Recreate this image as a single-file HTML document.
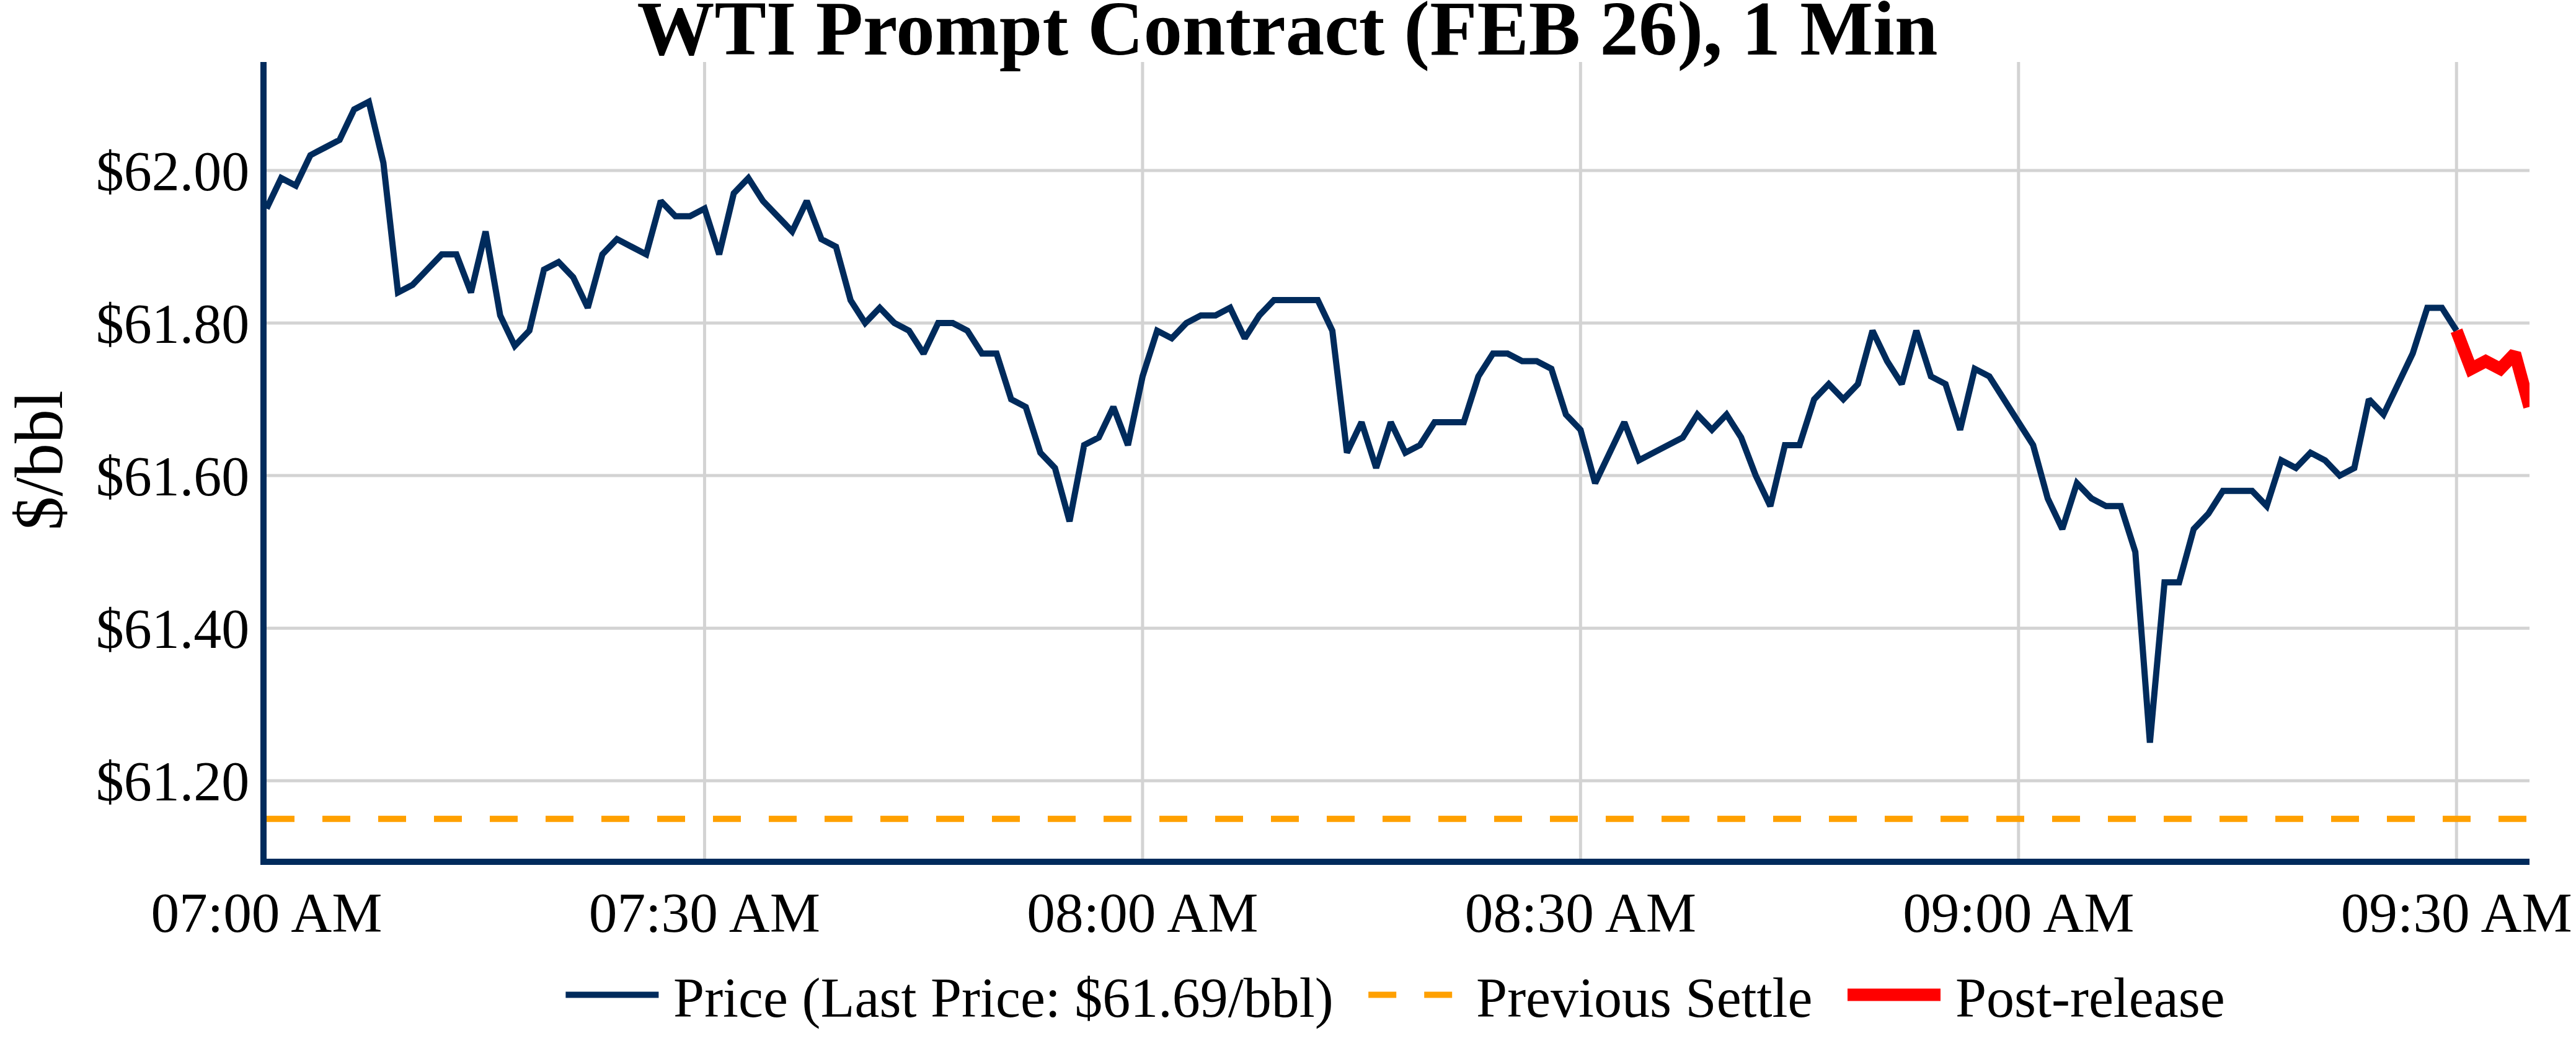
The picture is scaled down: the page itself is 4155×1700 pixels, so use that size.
<!DOCTYPE html>
<html><head><meta charset="utf-8"><title>WTI Prompt Contract</title>
<style>html,body{margin:0;padding:0;background:#fff;width:4155px;height:1700px;overflow:hidden}</style>
</head><body>
<svg width="4155" height="1700" viewBox="0 0 4155 1700" style="display:block"><rect x="0" y="0" width="4155" height="1700" fill="#ffffff"/><defs><clipPath id="pc"><rect x="430" y="100" width="3650" height="1285"/></clipPath></defs><g stroke="#d3d3d3" stroke-width="5" fill="none"><line x1="1136.45" y1="100" x2="1136.45" y2="1385" /><line x1="1842.90" y1="100" x2="1842.90" y2="1385" /><line x1="2549.35" y1="100" x2="2549.35" y2="1385" /><line x1="3255.81" y1="100" x2="3255.81" y2="1385" /><line x1="3962.26" y1="100" x2="3962.26" y2="1385" /><line x1="430" y1="274.90" x2="4080" y2="274.90" /><line x1="430" y1="521.00" x2="4080" y2="521.00" /><line x1="430" y1="767.10" x2="4080" y2="767.10" /><line x1="430" y1="1013.20" x2="4080" y2="1013.20" /><line x1="430" y1="1259.30" x2="4080" y2="1259.30" /></g><g clip-path="url(#pc)"><line x1="430" y1="1320.83" x2="4080" y2="1320.83" stroke="#ffa000" stroke-width="10" stroke-dasharray="45,45"/><path d="M430.00,336.42 L453.55,287.20 L477.10,299.51 L500.65,250.29 L524.19,237.98 L547.74,225.68 L571.29,176.46 L594.84,164.15 L618.39,262.60 L641.94,471.78 L665.48,459.47 L689.03,434.87 L712.58,410.25 L736.13,410.25 L759.68,471.78 L783.23,373.34 L806.77,508.69 L830.32,557.91 L853.87,533.31 L877.42,434.87 L900.97,422.56 L924.52,447.17 L948.06,496.39 L971.61,410.25 L995.16,385.65 L1018.71,397.95 L1042.26,410.25 L1065.81,324.12 L1089.35,348.73 L1112.90,348.73 L1136.45,336.42 L1160.00,410.25 L1183.55,311.82 L1207.10,287.20 L1230.65,324.12 L1254.19,348.73 L1277.74,373.34 L1301.29,324.12 L1324.84,385.65 L1348.39,397.95 L1371.94,484.09 L1395.48,521.00 L1419.03,496.39 L1442.58,521.00 L1466.13,533.31 L1489.68,570.22 L1513.23,521.00 L1536.77,521.00 L1560.32,533.31 L1583.87,570.22 L1607.42,570.22 L1630.97,644.05 L1654.52,656.36 L1678.06,730.18 L1701.61,754.80 L1725.16,840.93 L1748.71,717.88 L1772.26,705.58 L1795.81,656.36 L1819.35,717.88 L1842.90,607.14 L1866.45,533.31 L1890.00,545.61 L1913.55,521.00 L1937.10,508.69 L1960.65,508.69 L1984.19,496.39 L2007.74,545.61 L2031.29,508.69 L2054.84,484.09 L2078.39,484.09 L2101.94,484.09 L2125.48,484.09 L2149.03,533.31 L2172.58,730.18 L2196.13,680.96 L2219.68,754.80 L2243.23,680.96 L2266.77,730.18 L2290.32,717.88 L2313.87,680.96 L2337.42,680.96 L2360.97,680.96 L2384.52,607.14 L2408.06,570.22 L2431.61,570.22 L2455.16,582.52 L2478.71,582.52 L2502.26,594.83 L2525.81,668.66 L2549.35,693.27 L2572.90,779.40 L2596.45,730.18 L2620.00,680.96 L2643.55,742.49 L2667.10,730.18 L2690.65,717.88 L2714.19,705.58 L2737.74,668.66 L2761.29,693.27 L2784.84,668.66 L2808.39,705.58 L2831.94,767.10 L2855.48,816.32 L2879.03,717.88 L2902.58,717.88 L2926.13,644.05 L2949.68,619.44 L2973.23,644.05 L2996.77,619.44 L3020.32,533.31 L3043.87,582.52 L3067.42,619.44 L3090.97,533.31 L3114.52,607.14 L3138.06,619.44 L3161.61,693.27 L3185.16,594.83 L3208.71,607.14 L3232.26,644.05 L3255.81,680.96 L3279.35,717.88 L3302.90,804.01 L3326.45,853.23 L3350.00,779.40 L3373.55,804.01 L3397.10,816.32 L3420.65,816.32 L3444.19,890.15 L3467.74,1197.78 L3491.29,939.37 L3514.84,939.37 L3538.39,853.23 L3561.94,828.63 L3585.48,791.71 L3609.03,791.71 L3632.58,791.71 L3656.13,816.32 L3679.68,742.49 L3703.23,754.80 L3726.77,730.18 L3750.32,742.49 L3773.87,767.10 L3797.42,754.80 L3820.97,644.05 L3844.52,668.66 L3868.06,619.44 L3891.61,570.22 L3915.16,496.39 L3938.71,496.39 L3962.26,533.31" fill="none" stroke="#002b5c" stroke-width="10" stroke-linejoin="miter" stroke-miterlimit="2"/><path d="M3962.26,533.31 L3985.81,594.83 L4009.35,582.52 L4032.90,594.83 L4056.45,570.22 L4080.00,656.36" fill="none" stroke="#ff0000" stroke-width="20" stroke-linejoin="miter" stroke-miterlimit="2"/></g><line x1="425" y1="100" x2="425" y2="1395" stroke="#002b5c" stroke-width="10"/><line x1="420" y1="1390" x2="4080" y2="1390" stroke="#002b5c" stroke-width="10"/><g font-family='"Liberation Serif", serif' fill="#000"><text x="2076.5" y="88" font-size="125" font-weight="bold" text-anchor="middle">WTI Prompt Contract (FEB 26), 1 Min</text><text x="402.3" y="306.90" font-size="90" text-anchor="end">$62.00</text><text x="402.3" y="553.00" font-size="90" text-anchor="end">$61.80</text><text x="402.3" y="799.10" font-size="90" text-anchor="end">$61.60</text><text x="402.3" y="1045.20" font-size="90" text-anchor="end">$61.40</text><text x="402.3" y="1291.30" font-size="90" text-anchor="end">$61.20</text><text x="430.00" y="1502.8" font-size="91.4" text-anchor="middle">07:00 AM</text><text x="1136.45" y="1502.8" font-size="91.4" text-anchor="middle">07:30 AM</text><text x="1842.90" y="1502.8" font-size="91.4" text-anchor="middle">08:00 AM</text><text x="2549.35" y="1502.8" font-size="91.4" text-anchor="middle">08:30 AM</text><text x="3255.81" y="1502.8" font-size="91.4" text-anchor="middle">09:00 AM</text><text x="3962.26" y="1502.8" font-size="91.4" text-anchor="middle">09:30 AM</text><text transform="translate(100,742.5) rotate(-90)" x="0" y="0" font-size="110" text-anchor="middle">$/bbl</text></g><line x1="912.4" y1="1604.5" x2="1062.4" y2="1604.5" stroke="#002b5c" stroke-width="10"/><line x1="2207.2" y1="1604.5" x2="2357.2" y2="1604.5" stroke="#ffa000" stroke-width="10" stroke-dasharray="45,45"/><line x1="2980" y1="1604.5" x2="3130" y2="1604.5" stroke="#ff0000" stroke-width="20"/><g font-family='"Liberation Serif", serif' font-size="90" fill="#000"><text x="1086.1" y="1639.7">Price (Last Price: $61.69/bbl)</text><text x="2381.1" y="1639.7">Previous Settle</text><text x="3153.9" y="1639.7">Post-release</text></g></svg>
</body></html>
